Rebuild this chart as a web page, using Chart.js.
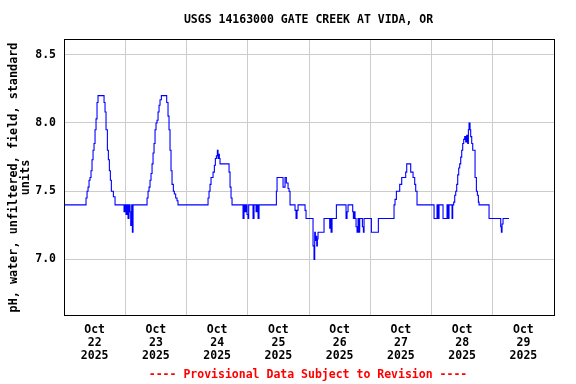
<!DOCTYPE html>
<html>
<head>
<meta charset="utf-8">
<script src="https://cdn.jsdelivr.net/npm/chart.js@4.4.1/dist/chart.umd.min.js"></script>
<style>
  html, body { margin: 0; padding: 0; background: #fff; }
  canvas { display: block; }
</style>
</head>
<body>
<canvas id="phChart" width="576" height="384" style="width:576px;height:384px"></canvas>
<script>
// hours since Oct 22 2025 00:00, value holds until the next change
const hours = [
    0, 8.63, 9.03, 9.42, 9.81, 10.2, 10.59, 10.98, 11.38, 11.77, 12.16, 12.55, 12.94, 13.33,
    15.69, 16.08, 16.47, 17.0, 17.39, 17.78, 18.17, 18.56, 19.35, 20.0,
    23.52, 23.92, 24.31, 24.7, 25.09, 25.48, 25.87, 26.14, 26.53, 26.79, 27.05,
    32.54, 32.93, 33.32, 33.71, 34.1, 34.5, 34.89, 35.28, 35.67, 36.06, 36.45, 36.85, 37.24, 37.63, 38.15,
    40.24, 40.76, 41.15, 41.54, 41.93, 42.33, 42.85, 43.24, 43.76, 44.28, 44.67,
    56.44, 56.83, 57.22, 57.61, 58.4, 58.92, 59.31, 59.71, 60.1, 60.36, 60.62, 60.88, 61.14,
    64.67, 65.06, 65.45, 65.84,
    70.15, 70.54, 70.94, 71.33, 71.72, 72.11, 72.37, 74.07, 74.46, 75.25, 75.64, 76.03, 76.42,
    83.22, 83.48, 85.83, 86.61, 87.13, 87.79, 88.18, 88.57,
    90.53, 90.92, 91.31, 91.71, 94.45, 94.84,
    97.58, 97.97, 98.24, 98.5, 98.76, 99.02, 99.28, 99.54, 101.89,
    104.11, 104.38, 104.64, 105.03, 106.73,
    110.51, 110.91, 111.3, 113.13, 113.39, 113.65, 114.04, 114.43, 114.82, 115.22, 115.61, 115.87,
    116.92, 117.31, 117.57, 120.44, 123.18,
    129.32, 129.71, 130.24, 131.54, 132.33, 133.89, 134.29, 135.85, 136.77, 137.42, 137.81, 138.33,
    145.0, 146.17, 146.56, 146.96, 148.52, 150.09, 150.48, 150.87, 152.05, 152.31,
    152.7, 153.1, 153.49, 153.88, 154.27, 154.66, 155.05, 155.45, 155.84, 156.23, 156.62, 157.01,
    157.41, 157.8, 158.19, 158.45, 158.71, 159.1, 159.36, 159.76, 160.15, 161.06, 161.59, 161.98,
    162.37, 162.63, 166.55, 171.12, 171.38, 171.64, 172.03, 174.39
];
const phValues = [
    7.4, 7.45, 7.5, 7.53, 7.58, 7.6, 7.65, 7.73, 7.8, 7.85, 7.95, 8.03, 8.15, 8.2,
    8.15, 8.08, 7.95, 7.8, 7.73, 7.65, 7.58, 7.5, 7.46, 7.4,
    7.35, 7.4, 7.33, 7.4, 7.3, 7.4, 7.35, 7.25, 7.4, 7.2, 7.4,
    7.45, 7.5, 7.53, 7.58, 7.63, 7.7, 7.78, 7.85, 7.95, 8.0, 8.02, 8.08, 8.13, 8.17, 8.2,
    8.15, 8.05, 7.95, 7.8, 7.65, 7.55, 7.5, 7.48, 7.45, 7.43, 7.4,
    7.45, 7.5, 7.55, 7.6, 7.64, 7.69, 7.74, 7.76, 7.8, 7.74, 7.77, 7.74, 7.7,
    7.64, 7.53, 7.45, 7.4,
    7.3, 7.4, 7.35, 7.4, 7.33, 7.3, 7.4, 7.3, 7.4, 7.35, 7.4, 7.3, 7.4,
    7.5, 7.6, 7.53, 7.6, 7.56, 7.52, 7.5, 7.4,
    7.36, 7.3, 7.36, 7.4, 7.36, 7.3,
    7.1, 7.0, 7.2, 7.14, 7.17, 7.1, 7.15, 7.2, 7.3,
    7.23, 7.3, 7.2, 7.3, 7.4,
    7.3, 7.35, 7.4, 7.35, 7.3, 7.35, 7.3, 7.24, 7.2, 7.3, 7.2, 7.3,
    7.24, 7.2, 7.3, 7.2, 7.3,
    7.4, 7.44, 7.5, 7.55, 7.6, 7.64, 7.7, 7.64, 7.6, 7.55, 7.5, 7.4,
    7.3, 7.4, 7.3, 7.4, 7.3, 7.4, 7.3, 7.4, 7.3, 7.4,
    7.42, 7.47, 7.5, 7.55, 7.62, 7.67, 7.7, 7.75, 7.8, 7.85, 7.88, 7.9,
    7.86, 7.91, 7.85, 7.95, 8.0, 7.95, 7.9, 7.85, 7.8, 7.6, 7.5, 7.47,
    7.42, 7.4, 7.3, 7.24, 7.2, 7.26, 7.3, 7.3
];

const yTicks = [7.0, 7.5, 8.0, 8.5];
const dayHours = [0, 12, 24, 36, 48, 60, 72, 84, 96, 108, 120, 132, 144, 156, 168, 180, 192];
const dayLabels = {12: '22', 36: '23', 60: '24', 84: '25', 108: '26', 132: '27', 156: '28', 180: '29'};

const titleText = 'USGS 14163000 GATE CREEK AT VIDA, OR';
const footerText = '---- Provisional Data Subject to Revision ----';

const FONT = 'DejaVu Sans Mono';

const frame = {
    id: 'frame',
    afterDraw(chart) {
        const {ctx, chartArea: a} = chart;
        ctx.save();
        ctx.strokeStyle = '#000';
        ctx.lineWidth = 1;
        ctx.strokeRect(Math.round(a.left) + 0.5, Math.round(a.top) + 0.5,
            Math.round(a.right - a.left), Math.round(a.bottom - a.top) - 1);
        ctx.font = 'bold 11.5px "' + FONT + '"';
        ctx.textAlign = 'center';
        ctx.textBaseline = 'middle';
        ctx.fillStyle = '#000';
        ctx.fillText(titleText, 308.5, 20.5);
        ctx.fillStyle = '#ff0000';
        ctx.fillText(footerText, 308, 375);
        ctx.restore();
    }
};

Chart.defaults.font.family = FONT;
Chart.defaults.font.size = 11.5;
Chart.defaults.font.weight = 'bold';
Chart.defaults.color = '#000';

new Chart(document.getElementById('phChart').getContext('2d'), {
    type: 'line',
    data: {
        datasets: [{
            data: hours.map((h, i) => ({x: h, y: phValues[i]})),
            borderColor: '#0000ff',
            borderWidth: 1.1,
            pointRadius: 0,
            stepped: 'before',
            fill: false
        }]
    },
    options: {
        responsive: false,
        devicePixelRatio: 1,
        animation: false,
        layout: { padding: { top: 39, right: 22, left: 0, bottom: 0 } },
        plugins: {
            legend: { display: false },
            tooltip: { enabled: false }
        },
        scales: {
            x: {
                type: 'linear',
                min: 0,
                max: 192,
                afterBuildTicks: s => { s.ticks = dayHours.map(v => ({value: v})); },
                afterFit: s => { s.height = 68; },
                grid: {
                    drawTicks: false,
                    color: c => (c.tick && c.tick.value % 24 === 0) ? '#cccccc' : 'rgba(0,0,0,0)',
                    lineWidth: 1
                },
                border: { display: false },
                ticks: {
                    autoSkip: false,
                    maxRotation: 0,
                    padding: 8,
                    font: { lineHeight: 1.11 },
                    callback: v => dayLabels[v] ? ['Oct', dayLabels[v], '2025'] : ''
                }
            },
            y: {
                min: 6.586,
                max: 8.615,
                afterBuildTicks: s => { s.ticks = yTicks.map(v => ({value: v})); },
                afterFit: s => { s.width = 64; },
                grid: { drawTicks: false, color: '#cccccc', lineWidth: 1 },
                border: { display: false },
                ticks: {
                    padding: 8,
                    callback: v => v.toFixed(1)
                },
                title: {
                    display: true,
                    text: ['pH, water, unfiltered, field, standard', 'units'],
                    font: { size: 11.8, lineHeight: 1.0 },
                    padding: { top: 8, bottom: 0 }
                }
            }
        }
    },
    plugins: [frame]
});
</script>
</body>
</html>
